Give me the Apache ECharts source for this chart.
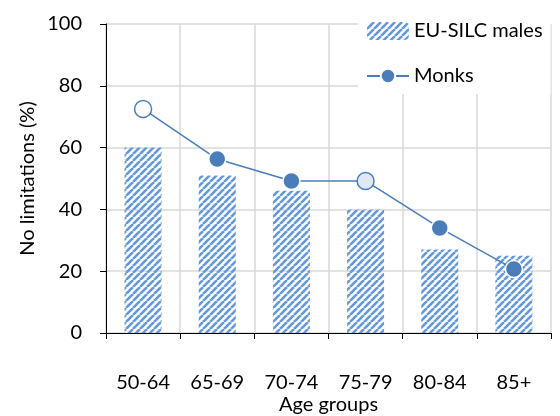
<!DOCTYPE html>
<html><head><meta charset="utf-8">
<script src="https://cdn.jsdelivr.net/npm/echarts@6/dist/echarts.min.js"></script>
<style>html,body{margin:0;padding:0;background:#fff}#c{width:560px;height:416px}</style>
</head><body><div id="c"></div>
<script>
const categories = ['50-64','65-69','70-74','75-79','80-84','85+'];
const euSilcMales = [60, 51, 46, 40, 27, 25];
const monks = [72.5, 56.3, 49.2, 49.2, 34, 20.7];
const yTicks = {min: 0, max: 100, interval: 20};

function stripes() {
  const c = document.createElement('canvas');
  c.width = 7; c.height = 7;
  const g = c.getContext('2d');
  g.strokeStyle = '#6399dc'; g.lineWidth = 2.6;
  for (let k = -7; k <= 14; k += 7) {
    g.beginPath(); g.moveTo(k, 7); g.lineTo(k + 7, 0); g.stroke();
  }
  return c;
}
function dots() {
  const c = document.createElement('canvas');
  c.width = 4; c.height = 4;
  const g = c.getContext('2d');
  g.fillStyle = '#dfe8f5'; g.fillRect(0,0,4,4);
  g.fillStyle = '#7fa5d8'; g.fillRect(1,1,2,2);
  return c;
}
const font = 'Lato';
const fs = 20;
const lineColor = '#4a7ebb';
const monkData = monks.map((v, i) => {
  if (i === 0) return {value: v, itemStyle: {color: '#ffffff', borderColor: lineColor, borderWidth: 1.5}};
  if (i === 3) return {value: v, itemStyle: {color: {image: dots(), repeat: 'repeat'}, borderColor: lineColor, borderWidth: 1.5}};
  return {value: v};
});
const chart = echarts.init(document.getElementById('c'), null, {renderer: 'canvas'});
chart.setOption({
  animation: false,
  textStyle: {fontFamily: font},
  grid: {left: 106, right: 9, top: 24, bottom: 83, outerBoundsMode: 'none', containLabel: false},
  legend: {
    orient: 'vertical', left: 358, top: 13,
    backgroundColor: '#ffffff', padding: [8, 8, 8, 8],
    itemWidth: 42, itemHeight: 18, itemGap: 25,
    textStyle: {fontFamily: font, fontSize: fs, color: '#000'},
    data: [{name: 'EU-SILC males'}, {name: 'Monks'}]
  },
  xAxis: {
    type: 'category', data: categories,
    name: 'Age groups', nameLocation: 'middle', nameGap: 62, nameMoveOverlap: false,
    nameTextStyle: {fontFamily: font, fontSize: fs, color: '#000'},
    axisLine: {lineStyle: {color: '#000', width: 1}},
    axisTick: {show: true, length: 6, lineStyle: {color: '#000'}},
    axisLabel: {margin: 40, fontFamily: font, fontSize: fs, color: '#000'},
    splitLine: {show: true, interval: 0, lineStyle: {color: '#d9d9d9', width: 1.5}}
  },
  yAxis: {
    type: 'value', min: yTicks.min, max: yTicks.max, interval: yTicks.interval,
    name: 'No limitations (%)', nameLocation: 'middle', nameGap: 68, nameRotate: 90, nameMoveOverlap: false,
    nameTextStyle: {fontFamily: font, fontSize: fs, color: '#000'},
    axisLine: {show: true, lineStyle: {color: '#000', width: 1}},
    axisTick: {show: true, length: 6, lineStyle: {color: '#000'}},
    axisLabel: {margin: 24, fontFamily: font, fontSize: fs, color: '#000'},
    splitLine: {show: true, lineStyle: {color: '#d9d9d9', width: 1.5}}
  },
  series: [
    {
      name: 'EU-SILC males', type: 'bar', data: euSilcMales, barWidth: 37,
      itemStyle: {color: {image: stripes(), repeat: 'repeat'}}
    },
    {
      name: 'Monks', type: 'line', data: monkData, symbol: 'circle', symbolSize: 17,
      lineStyle: {color: lineColor, width: 1.5},
      itemStyle: {color: lineColor, borderColor: '#ffffff', borderWidth: 1.5}, z: 5
    }
  ]
});
</script></body></html>
